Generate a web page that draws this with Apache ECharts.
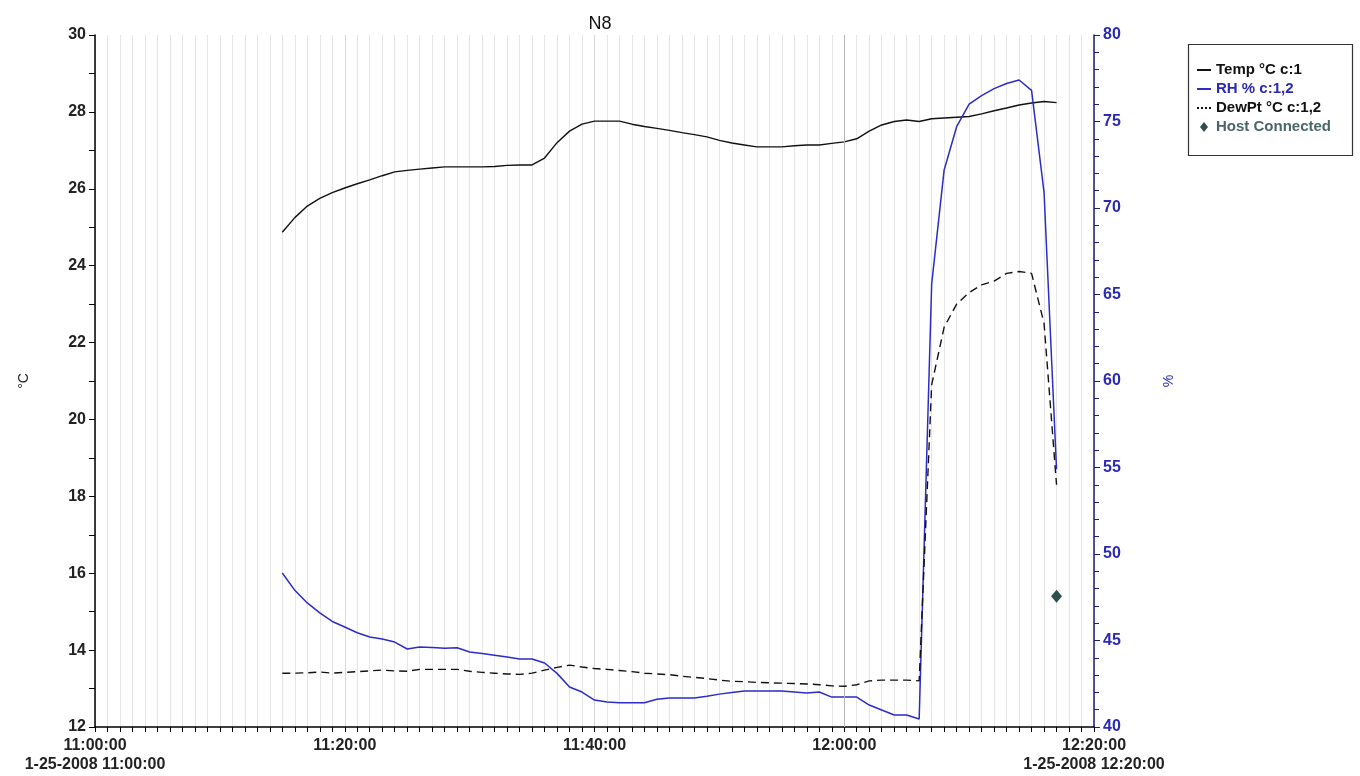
<!DOCTYPE html>
<html>
<head>
<meta charset="utf-8">
<title>N8</title>
<script src="https://cdn.jsdelivr.net/npm/echarts@6/dist/echarts.min.js"></script>
<style>
  html, body { margin: 0; padding: 0; background: #fff; }
  #chart { width: 1360px; height: 776px; }
</style>
</head>
<body>
<div id="chart"></div>
<script>
// Logger N8, 1-25-2008, one reading per minute
const chartDate = '1-25-2008';
const axisStart = '11:00';
const times = [
  '11:15','11:16','11:17','11:18','11:19','11:20','11:21','11:22','11:23','11:24',
  '11:25','11:26','11:27','11:28','11:29','11:30','11:31','11:32','11:33','11:34',
  '11:35','11:36','11:37','11:38','11:39','11:40','11:41','11:42','11:43','11:44',
  '11:45','11:46','11:47','11:48','11:49','11:50','11:51','11:52','11:53','11:54',
  '11:55','11:56','11:57','11:58','11:59','12:00','12:01','12:02','12:03','12:04',
  '12:05','12:06','12:07','12:08','12:09','12:10','12:11','12:12','12:13','12:14',
  '12:15','12:16','12:17'
];
// Temperature, °C
const tempC = [
  24.87, 25.25, 25.55, 25.75, 25.90, 26.02, 26.13, 26.23, 26.34, 26.44,
  26.48, 26.51, 26.54, 26.57, 26.57, 26.57, 26.57, 26.58, 26.61, 26.62,
  26.62, 26.80, 27.20, 27.50, 27.68, 27.76, 27.76, 27.76, 27.68, 27.62,
  27.57, 27.52, 27.46, 27.41, 27.35, 27.26, 27.19, 27.14, 27.09, 27.09,
  27.09, 27.12, 27.14, 27.14, 27.18, 27.22, 27.30, 27.50, 27.66, 27.75,
  27.79, 27.75, 27.82, 27.84, 27.86, 27.88, 27.95, 28.03, 28.10, 28.18,
  28.23, 28.27, 28.24
];
// Relative humidity, %
const rhPct = [
  48.90, 47.90, 47.17, 46.60, 46.10, 45.78, 45.45, 45.20, 45.09, 44.91,
  44.51, 44.62, 44.60, 44.55, 44.58, 44.34, 44.25, 44.15, 44.05, 43.93,
  43.93, 43.70, 43.10, 42.31, 42.02, 41.56, 41.45, 41.40, 41.40, 41.40,
  41.60, 41.68, 41.68, 41.68, 41.78, 41.90, 42.00, 42.08, 42.08, 42.08,
  42.08, 42.02, 41.96, 42.02, 41.73, 41.73, 41.73, 41.27, 40.98, 40.69,
  40.69, 40.46, 65.60, 72.20, 74.70, 76.00, 76.50, 76.90, 77.20, 77.40,
  76.80, 70.90, 54.90
];
// Dew point, °C
const dewC = [
  13.40, 13.40, 13.41, 13.43, 13.40, 13.42, 13.44, 13.46, 13.48, 13.46,
  13.45, 13.50, 13.50, 13.50, 13.50, 13.45, 13.42, 13.40, 13.38, 13.37,
  13.40, 13.48, 13.55, 13.61, 13.56, 13.52, 13.50, 13.47, 13.44, 13.40,
  13.38, 13.36, 13.32, 13.29, 13.26, 13.22, 13.19, 13.18, 13.16, 13.15,
  13.14, 13.13, 13.12, 13.10, 13.07, 13.06, 13.10, 13.20, 13.22, 13.22,
  13.22, 13.20, 20.90, 22.40, 23.00, 23.30, 23.50, 23.60, 23.80, 23.85,
  23.80, 22.50, 18.30
];
// Host connection event
const hostTimes = ['12:17'];
const hostValues = [15.4];

const FONT = '"Liberation Sans", Arial, sans-serif';

// Legend glyphs: short solid bar, dotted bar, small diamond
const ICON_SOLID = 'path://M0,0h14v2h-14z';
const ICON_DOTTED = 'path://M0,0h2v2h-2zM4,0h2v2h-2zM8,0h2v2h-2zM12,0h2v2h-2z';
const ICON_DIAMOND = 'path://M4,0L8,5L4,10L0,5Z';

function toMin(t) {
  const [h, m] = t.split(':').map(Number);
  const [h0, m0] = axisStart.split(':').map(Number);
  return (h - h0) * 60 + (m - m0);
}
function minToClock(v) {
  const [h0, m0] = axisStart.split(':').map(Number);
  const total = h0 * 60 + m0 + v;
  const hh = Math.floor(total / 60), mm = total % 60;
  return hh + ':' + String(mm).padStart(2, '0') + ':00';
}
const pairs = (vals, ts) => vals.map((v, i) => [toMin(ts[i]), v]);

const chart = echarts.init(document.getElementById('chart'), null, { renderer: 'canvas' });

chart.setOption({
  animation: false,
  backgroundColor: '#fff',
  textStyle: { fontFamily: FONT },
  title: {
    text: 'N8',
    left: 595,
    top: 10,
    textAlign: 'center',
    textStyle: { fontFamily: FONT, fontSize: 18, fontWeight: 'normal', color: '#111' }
  },
  grid: { left: 95, right: 266, top: 35, bottom: 49, containLabel: false },
  graphic: [{
    type: 'rect',
    z: 0,
    shape: { x: 1188.5, y: 44.5, width: 164, height: 111 },
    style: { fill: 'none', stroke: '#333', lineWidth: 1.2 }
  }],
  legend: {
    orient: 'vertical',
    left: 1197,
    top: 62,
    itemWidth: 14,
    itemHeight: 10,
    itemGap: 3,
    padding: 0,
    selectedMode: false,
    textStyle: { fontFamily: FONT, fontSize: 15, fontWeight: 'bold', lineHeight: 16 },
    data: [
      { name: 'Temp °C c:1', icon: ICON_SOLID, itemStyle: { color: '#111' }, textStyle: { color: '#111' } },
      { name: 'RH % c:1,2', icon: ICON_SOLID, itemStyle: { color: '#2c2cc8' }, textStyle: { color: '#2a2ab4' } },
      { name: 'DewPt °C c:1,2', icon: ICON_DOTTED, itemStyle: { color: '#111' }, textStyle: { color: '#111' } },
      { name: 'Host Connected', icon: ICON_DIAMOND, itemStyle: { color: '#2f4f4f', opacity: 1 }, textStyle: { color: '#4a6666' } }
    ]
  },
  xAxis: {
    type: 'value',
    min: 0,
    max: 80,
    interval: 20,
    axisLine: { onZero: false, lineStyle: { color: '#000', width: 1.5 } },
    axisTick: { show: true, length: 5, lineStyle: { color: '#000' } },
    minorTick: { show: true, splitNumber: 20, length: 5, lineStyle: { color: '#000' } },
    splitLine: { show: true, lineStyle: { color: '#d8d8d8', width: 1 } },
    minorSplitLine: { show: true, lineStyle: { color: '#e6e6e6', width: 1 } },
    axisLabel: {
      showMinLabel: true,
      showMaxLabel: true,
      margin: 9,
      fontFamily: FONT,
      fontSize: 16,
      fontWeight: 'bold',
      color: '#222',
      lineHeight: 19,
      formatter: function (v) {
        const clock = minToClock(v);
        if (v === 0 || v === 80) return clock + '\n' + chartDate + ' ' + clock;
        return clock;
      }
    }
  },
  yAxis: [
    {
      type: 'value',
      position: 'left',
      min: 12,
      max: 30,
      interval: 2,
      name: '°C',
      nameLocation: 'middle',
      nameGap: 64,
      nameRotate: 90,
      nameTextStyle: { fontFamily: FONT, fontSize: 14, color: '#222' },
      axisLine: { show: true, onZero: false, lineStyle: { color: '#000', width: 1.5 } },
      axisTick: { show: true, length: 6, lineStyle: { color: '#000' } },
      minorTick: { show: true, splitNumber: 2, length: 6, lineStyle: { color: '#000' } },
      splitLine: { show: false },
      axisLabel: { margin: 9, fontFamily: FONT, fontSize: 16, fontWeight: 'bold', color: '#222' }
    },
    {
      type: 'value',
      position: 'right',
      min: 40,
      max: 80,
      interval: 5,
      name: '%',
      nameLocation: 'middle',
      nameGap: 68,
      nameRotate: 90,
      nameTextStyle: { fontFamily: FONT, fontSize: 14, color: '#2a2ab4' },
      axisLine: { show: true, onZero: false, lineStyle: { color: '#1c1c80', width: 1.5 } },
      axisTick: { show: true, length: 6, lineStyle: { color: '#1c1c80' } },
      minorTick: { show: true, splitNumber: 5, length: 5, lineStyle: { color: '#1c1c80' } },
      splitLine: { show: false },
      axisLabel: { margin: 9, fontFamily: FONT, fontSize: 16, fontWeight: 'bold', color: '#2a2ab4' }
    }
  ],
  series: [
    {
      name: 'Temp °C c:1',
      type: 'line',
      yAxisIndex: 0,
      symbol: 'none',
      z: 3,
      lineStyle: { color: '#111', width: 1.4 },
      itemStyle: { color: '#111' },
      data: pairs(tempC, times),
      markLine: {
        silent: true,
        symbol: 'none',
        label: { show: false },
        lineStyle: { color: '#b4b4b4', type: 'solid', width: 1 },
        data: [{ xAxis: toMin('12:00') }]
      }
    },
    {
      name: 'RH % c:1,2',
      type: 'line',
      yAxisIndex: 1,
      symbol: 'none',
      z: 4,
      lineStyle: { color: '#2c2cc8', width: 1.5 },
      itemStyle: { color: '#2c2cc8' },
      data: pairs(rhPct, times)
    },
    {
      name: 'DewPt °C c:1,2',
      type: 'line',
      yAxisIndex: 0,
      symbol: 'none',
      z: 5,
      lineStyle: { color: '#111', width: 1.4, type: [8, 5] },
      itemStyle: { color: '#111' },
      data: pairs(dewC, times)
    },
    {
      name: 'Host Connected',
      type: 'scatter',
      yAxisIndex: 0,
      symbol: 'diamond',
      symbolSize: [11, 13],
      z: 6,
      itemStyle: { color: '#2f4f4f', opacity: 1 },
      data: pairs(hostValues, hostTimes)
    }
  ]
});
</script>
</body>
</html>
